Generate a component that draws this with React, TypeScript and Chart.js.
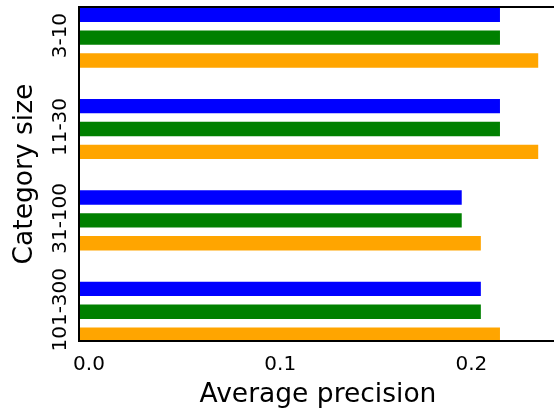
import React, { useEffect, useRef } from 'react';
import { Chart, registerables } from 'chart.js';

Chart.register(...registerables);

// Category groups (top to bottom) and the three series per group
const categories = ['3-10', '11-30', '31-100', '101-300'];
const blueSeries = [0.22, 0.22, 0.2, 0.21];
const greenSeries = [0.22, 0.22, 0.2, 0.21];
const orangeSeries = [0.24, 0.24, 0.21, 0.22];

// Axis ticks
const xTickValues = [0.0, 0.1, 0.2];
const xTickLabels = ['0.0', '0.1', '0.2'];

const FONT = '"DejaVu Sans", sans-serif';
const BLACK = '#000000';

// Position of each series inside a group, in category units
const SLOT = [-0.25, 0, 0.25];

export default function App() {
  const canvasRef = useRef<HTMLCanvasElement | null>(null);

  useEffect(() => {
    const canvas = canvasRef.current;
    if (!canvas) return;

    const series = [
      { values: blueSeries, color: '#0000ff' },
      { values: greenSeries, color: '#008000' },
      { values: orangeSeries, color: '#ffa500' },
    ];

    const datasets = series.map((s, k) => ({
      data: s.values.map((v, i) => ({ x: v, y: i + SLOT[k] })),
      backgroundColor: s.color,
      borderWidth: 0,
      xAxisID: 'x',
      yAxisID: 'y',
    }));

    const border = { display: true, color: BLACK, width: 2, z: 1 };

    const chart = new Chart(canvas, {
      type: 'bar',
      data: { datasets },
      options: {
        indexAxis: 'y',
        animation: false,
        responsive: false,
        layout: { padding: { top: 7, right: 0, bottom: 0, left: 0 } },
        plugins: {
          legend: { display: false },
          tooltip: { enabled: false },
        },
        datasets: {
          bar: { grouped: false, barThickness: 13.7, clip: 0 },
        },
        scales: {
          x: {
            type: 'linear',
            position: 'bottom',
            min: 0,
            max: 0.25,
            offset: false,
            grid: { display: false, drawTicks: false, offset: false },
            border,
            afterBuildTicks: (s: any) => {
              s.ticks = xTickValues.map((v) => ({ value: v }));
            },
            ticks: {
              color: BLACK,
              font: { family: FONT, size: 20 },
              padding: 12,
              labelOffset: 10,
              minRotation: 0,
              maxRotation: 0,
              autoSkip: false,
              callback: (_v: any, i: number) => xTickLabels[i],
            },
            title: {
              display: true,
              text: 'Average precision',
              color: BLACK,
              font: { family: FONT, size: 26.5 },
              padding: { top: 0, bottom: -2 },
            },
            afterFit: (s: any) => {
              s.height = 68;
              s.paddingLeft = 0;
              s.paddingRight = 0;
            },
          },
          xTop: {
            type: 'linear',
            position: 'top',
            display: true,
            offset: false,
            grid: { display: false, drawTicks: false, offset: false },
            ticks: { display: false },
            border,
            afterFit: (s: any) => {
              s.height = 0;
              s.paddingLeft = 0;
              s.paddingRight = 0;
            },
          },
          y: {
            type: 'linear',
            position: 'left',
            reverse: true,
            min: -0.335,
            max: 3.32,
            offset: false,
            grid: { display: false, drawTicks: false, offset: false },
            border,
            afterBuildTicks: (s: any) => {
              s.ticks = categories.map((_c, i) => ({ value: i }));
            },
            ticks: {
              color: BLACK,
              font: { family: FONT, size: 20 },
              minRotation: 90,
              maxRotation: 90,
              crossAlign: 'center',
              padding: -24,
              labelOffset: -2,
              autoSkip: false,
              callback: (_v: any, i: number) => categories[i],
            },
            title: {
              display: true,
              text: 'Category size',
              color: BLACK,
              font: { family: FONT, size: 26.5 },
              padding: { top: 9, bottom: 0 },
            },
            afterFit: (s: any) => {
              s.width = 79;
              s.paddingTop = 0;
              s.paddingBottom = 0;
            },
          },
        },
      } as any,
    });

    return () => chart.destroy();
  }, []);

  return (
    <div
      style={{
        position: 'absolute',
        left: 0,
        top: 0,
        width: 554,
        height: 409,
        overflow: 'hidden',
        background: '#ffffff',
      }}
    >
      <canvas ref={canvasRef} width={557} height={409} style={{ display: 'block' }} />
    </div>
  );
}
